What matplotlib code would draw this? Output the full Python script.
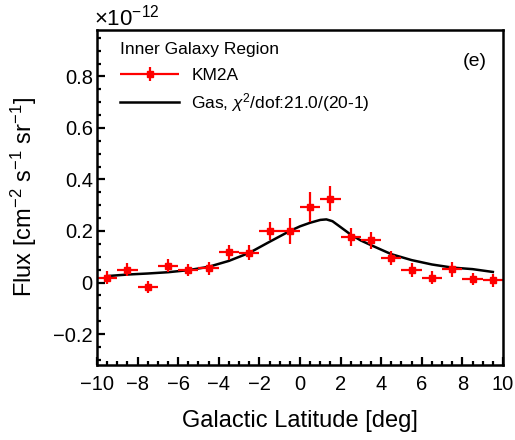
import numpy as np
import matplotlib.pyplot as plt
from matplotlib.ticker import MultipleLocator
from matplotlib.legend_handler import HandlerErrorbar

plt.rcParams['font.family'] = ['Liberation Sans', 'DejaVu Sans']
plt.rcParams['mathtext.fontset'] = 'custom'
plt.rcParams['mathtext.rm'] = 'Liberation Sans'
plt.rcParams['mathtext.it'] = 'Liberation Sans:italic'

# KM2A latitude profile, flux in units of 1e-12 cm^-2 s^-1 sr^-1
lat = [-9.5, -8.5, -7.5, -6.5, -5.5, -4.5, -3.5, -2.5, -1.5, -0.5,
       0.5, 1.5, 2.5, 3.5, 4.5, 5.5, 6.5, 7.5, 8.5, 9.5]
flux = [0.019, 0.050, -0.017, 0.066, 0.048, 0.056, 0.118, 0.116, 0.199, 0.199,
        0.294, 0.326, 0.175, 0.164, 0.096, 0.050, 0.019, 0.052, 0.013, 0.009]
flux_err = [0.025, 0.026, 0.024, 0.025, 0.022, 0.025, 0.029, 0.030, 0.034, 0.050,
            0.058, 0.049, 0.035, 0.034, 0.028, 0.027, 0.026, 0.029, 0.024, 0.026]
bin_half = [0.5] * 20

# gas template curve
gas_lat = [-9.5, -8.5, -7.5, -6.5, -5.5, -4.5, -3.5, -2.5, -1.5, -0.5, 0.0, 0.5,
           1.0, 1.3, 1.6, 2.0, 2.5, 3.0, 3.5, 4.5, 5.5, 6.5, 7.5, 8.5, 9.5]
gas_flux = [0.025, 0.031, 0.035, 0.040, 0.048, 0.061, 0.084, 0.115, 0.158, 0.200, 0.218, 0.232,
            0.243, 0.245, 0.238, 0.215, 0.186, 0.163, 0.145, 0.110, 0.087, 0.070, 0.058, 0.052, 0.041]

xticks = list(range(-10, 11, 2))
yticks = [-0.2, 0, 0.2, 0.4, 0.6, 0.8]

fig = plt.figure(figsize=(5.15, 4.4), dpi=100)
ax = fig.add_axes([0.1883, 0.1705, 0.7884, 0.7613])

gas_line, = ax.plot(gas_lat, gas_flux, color='black', lw=1.8)
km2a = ax.errorbar(lat, flux, xerr=bin_half, yerr=flux_err, fmt='s', color='red',
                   ms=5, elinewidth=1.6, capsize=0)

ax.set_xlim(-10, 10)
ax.set_ylim(-0.32, 0.98)

ax.xaxis.set_minor_locator(MultipleLocator(0.5))
ax.yaxis.set_minor_locator(MultipleLocator(0.05))
ax.set_yticks(yticks)
ax.set_yticklabels([('\u2212' + f'{-v:g}') if v < 0 else f'{v:g}' for v in yticks])
ax.set_xticks(xticks)
ax.set_xticklabels([('\u2212' + str(-v)) if v < 0 else str(v) for v in xticks])
ax.tick_params(which='both', direction='in', width=1.6, labelsize=14.5)
ax.tick_params(axis='x', pad=7)
ax.tick_params(axis='y', pad=3)
ax.tick_params(which='major', length=6)
ax.tick_params(which='minor', length=3)
for sp in ax.spines.values():
    sp.set_linewidth(1.8)

ax.set_xlabel('Galactic Latitude [deg]', fontsize=17, labelpad=12)
ax.set_ylabel(r'Flux [cm$^{\mathrm{-2}}$ s$^{\mathrm{-1}}$ sr$^{\mathrm{-1}}$]', fontsize=17, labelpad=10)

ax.text(-0.008, 0.998, '\u00d710$^{\u2212\\mathrm{12}}$', transform=ax.transAxes, fontsize=16,
        ha='left', va='bottom')
ax.text(0.96, 0.905, '(e)', transform=ax.transAxes, fontsize=14, ha='right', va='center')

leg = ax.legend([km2a, gas_line], ['KM2A', r'Gas, $\chi^2$/dof:21.0/(20-1)'],
                handler_map={type(km2a): HandlerErrorbar(xerr_size=1.7, yerr_size=0.4, numpoints=1)},
                title='Inner Galaxy Region', title_fontsize=12.5, fontsize=12.5,
                loc='upper left', bbox_to_anchor=(0.04, 0.985), frameon=False,
                handlelength=3.4, handletextpad=0.7, labelspacing=0.45,
                alignment='left', borderaxespad=0, borderpad=0.4)
leg._legend_box.sep = 8

fig.savefig('out.png', dpi=100)
